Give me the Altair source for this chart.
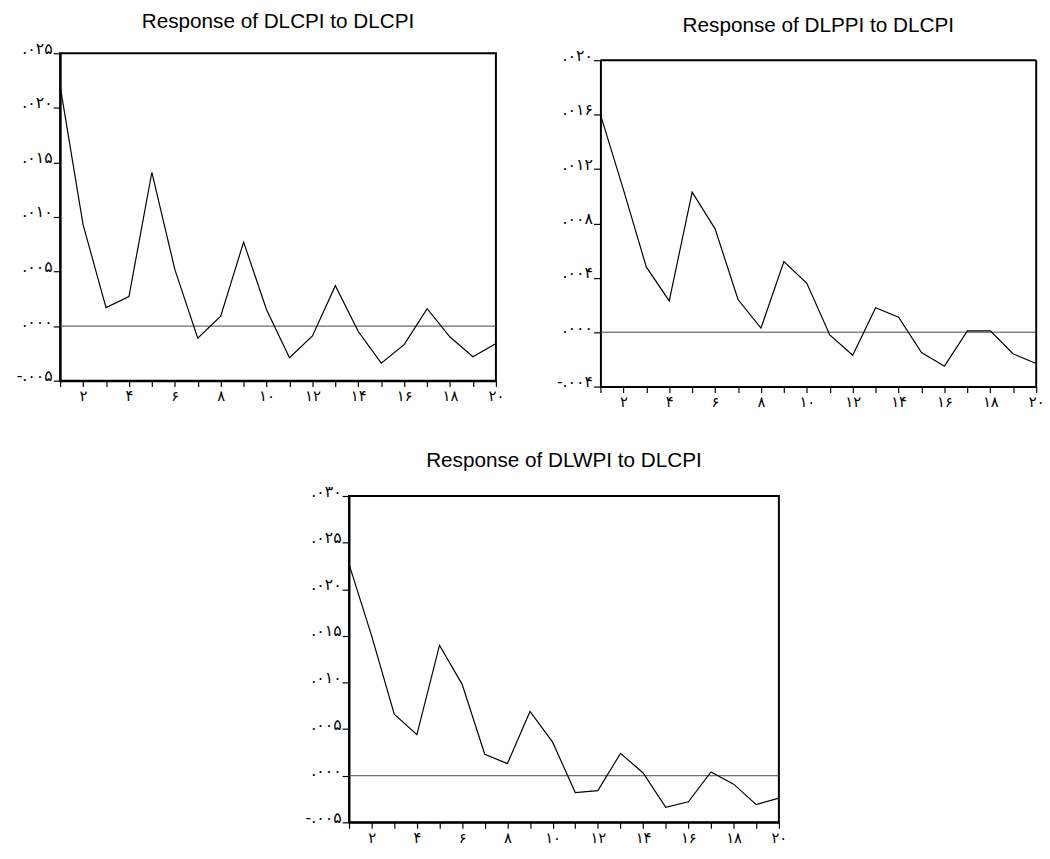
import json
import altair as alt
import pandas as pd

# ---- data ----
periods = list(range(1, 21))

dlcpi_resp = [0.0220, 0.0093, 0.0017, 0.0027, 0.0141, 0.0052, -0.0011, 0.0009, 0.0077, 0.0015,
              -0.0029, -0.0009, 0.0037, -0.0005, -0.0034, -0.0017, 0.0016, -0.0010, -0.0028, -0.0016]
dlppi_resp = [0.0160, 0.0105, 0.0048, 0.0023, 0.0103, 0.0076, 0.0024, 0.0003, 0.0052, 0.0036,
              -0.0002, -0.0017, 0.0018, 0.0011, -0.0015, -0.0025, 0.0001, 0.0001, -0.0016, -0.0023]
dlwpi_resp = [0.0227, 0.0150, 0.0066, 0.0044, 0.0140, 0.0098, 0.0023, 0.0013, 0.0069, 0.0036,
              -0.0018, -0.0016, 0.0024, 0.0003, -0.0034, -0.0028, 0.0004, -0.0009, -0.0031, -0.0024]

titles = ["Response of DLCPI to DLCPI", "Response of DLPPI to DLCPI", "Response of DLWPI to DLCPI"]

x_tick_labels = ["", "۲", "", "۴", "", "۶", "", "۸", "", "۱۰",
                 "", "۱۲", "", "۱۴", "", "۱۶", "", "۱۸", "", "۲۰"]

p1_y_ticks = [-0.005, 0.0, 0.005, 0.010, 0.015, 0.020, 0.025]
p1_y_labels = ["-.۰۰۵", ".۰۰۰", ".۰۰۵", ".۰۱۰", ".۰۱۵", ".۰۲۰", ".۰۲۵"]
p2_y_ticks = [-0.004, 0.0, 0.004, 0.008, 0.012, 0.016, 0.020]
p2_y_labels = ["-.۰۰۴", ".۰۰۰", ".۰۰۴", ".۰۰۸", ".۰۱۲", ".۰۱۶", ".۰۲۰"]
p3_y_ticks = [-0.005, 0.0, 0.005, 0.010, 0.015, 0.020, 0.025, 0.030]
p3_y_labels = ["-.۰۰۵", ".۰۰۰", ".۰۰۵", ".۰۱۰", ".۰۱۵", ".۰۲۰", ".۰۲۵", ".۰۳۰"]

LABEL_FONT = "DejaVu Sans"
TITLE_FONT = "Liberation Sans"


def x_label_expr():
    return json.dumps([""] + x_tick_labels, ensure_ascii=False) + "[round(datum.value)]"


def y_label_expr(ticks, labels):
    step = ticks[1] - ticks[0]
    return (json.dumps(labels, ensure_ascii=False)
            + "[round((datum.value - (%r)) / %r)]" % (ticks[0], step))


def panel(values, ticks, labels, title, w, h, title_offset, top_gap=0):
    df = pd.DataFrame({"period": periods, "resp": values})
    xaxis = alt.Axis(values=periods, title=None, grid=False,
                     labelExpr=x_label_expr(), tickSize=6, tickColor="black",
                     tickWidth=1.2, domainColor="black", domainWidth=2,
                     labelFont=LABEL_FONT, labelFontSize=15, labelColor="black",
                     labelPadding=2, labelFlush=False, labelOverlap=False)
    xscale = alt.Scale(domain=[periods[0], periods[-1]], nice=False, zero=False)
    yscale_args = dict(domain=[ticks[0], ticks[-1]], nice=False, zero=False)
    if top_gap:
        yscale_args["range"] = [h + top_gap, top_gap]
    yscale = alt.Scale(**yscale_args)
    yaxis = alt.Axis(values=ticks, title=None, grid=False,
                     labelExpr=y_label_expr(ticks, labels), tickSize=7,
                     tickColor="black", tickWidth=1.2, domainColor="black",
                     domainWidth=2, labelFont=LABEL_FONT, labelFontSize=16,
                     labelColor="black", labelPadding=1, labelBaseline="alphabetic",
                     labelFlush=False, labelOverlap=False)

    def X():
        return alt.X("period:Q", scale=xscale, axis=xaxis)

    def Y():
        return alt.Y("resp:Q", scale=yscale, axis=yaxis)

    line = alt.Chart(df).mark_line(color="black", strokeWidth=1.2).encode(x=X(), y=Y())
    zero_df = pd.DataFrame({"resp": [0.0]})
    zero = alt.Chart(zero_df).mark_rule(color="#444444", strokeWidth=1).encode(y=Y())
    layers = [zero, line]
    props = dict(
        width=w, height=h + top_gap,
        title=alt.TitleParams(title, font=TITLE_FONT, fontSize=21, fontWeight="normal",
                              color="black", anchor="middle", frame="group",
                              offset=title_offset),
    )
    if top_gap:
        top_df = pd.DataFrame({"period": [periods[0]], "period_end": [periods[-1]],
                               "resp": [ticks[-1]]})
        right_df = pd.DataFrame({"period": [periods[-1]], "resp": [ticks[0]],
                                 "resp_end": [ticks[-1]]})
        top_rule = alt.Chart(top_df).mark_rule(color="black", strokeWidth=2).encode(
            x=X(), x2="period_end:Q", y=Y())
        right_rule = alt.Chart(right_df).mark_rule(color="black", strokeWidth=2).encode(
            x=X(), y=Y(), y2="resp_end:Q")
        layers += [top_rule, right_rule]
        props["view"] = alt.ViewBackground(stroke="transparent", strokeWidth=0)
    return alt.layer(*layers).properties(**props)


p1 = panel(dlcpi_resp, p1_y_ticks, p1_y_labels, titles[0], 442, 332, 9)
p2 = panel(dlppi_resp, p2_y_ticks, p2_y_labels, titles[1], 442, 331, 12, top_gap=7)
p3 = panel(dlwpi_resp, p3_y_ticks, p3_y_labels, titles[2], 436, 331, 12)

spacer = alt.Chart(pd.DataFrame({"a": [0]})).mark_point(size=1, opacity=0).encode(
    x=alt.value(120), y=alt.value(0)
).properties(width=247, height=1, view=alt.ViewBackground(stroke="transparent", strokeWidth=0))

top = alt.hconcat(p1, p2, spacing=51)
bottom = alt.hconcat(spacer, p3, spacing=0)

chart = alt.vconcat(top, bottom, spacing=41).properties(
    padding={"left": 15, "top": 4, "right": 5, "bottom": 2},
    background="white",
).configure_view(stroke="black", strokeWidth=2)

chart.save("out.html", embed_options={"renderer": "svg", "actions": False})
